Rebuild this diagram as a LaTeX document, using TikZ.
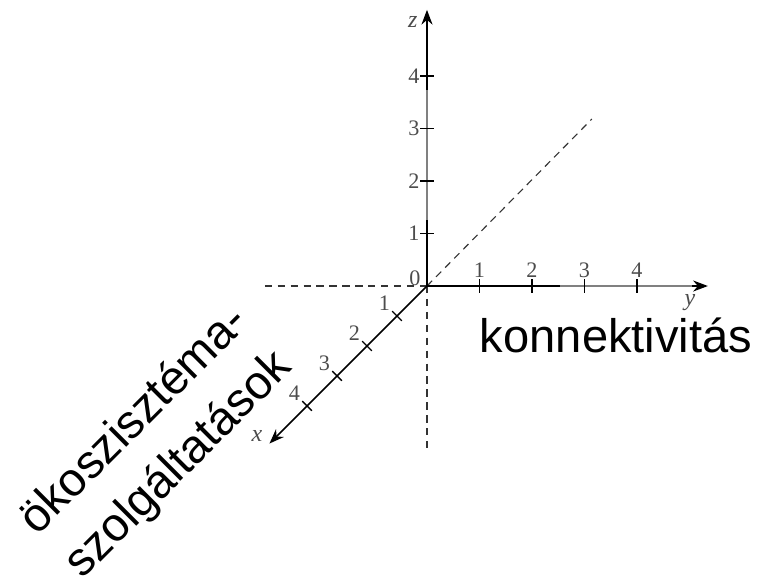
\documentclass[tikz,border=0pt]{standalone}
\usepackage{fontspec}
\setmainfont{Liberation Serif}
\newfontfamily\labelfont{Liberation Sans}
\usetikzlibrary{arrows.meta}

\begin{document}
\begin{tikzpicture}[>={Stealth[length=8pt,width=6pt]}]
  \useasboundingbox (-8.133,-5.695) rectangle (6.362,5.448);
  \tikzset{
    axis/.style={line width=0.8pt, ->},
    guide/.style={line width=0.6pt, dash pattern=on 4pt off 3pt, black!80},
    faded/.style={line width=1.6pt, black!50},
    ticklabel/.style={font=\fontsize{12}{14}\selectfont, text=black!70, inner sep=1pt},
    axislabel/.style={font=\fontsize{13}{15}\selectfont\itshape, text=black!70, inner sep=1pt},
    bigtext/.style={font=\labelfont\fontsize{25.5}{34}\selectfont, align=center, inner sep=0pt},
  }
  \coordinate (O) at (0,0);
  \coordinate (xend) at (-3.0,-3.0);
  \coordinate (yend) at (5.35,0);
  \coordinate (zend) at (0,5.26);
  % dashed guides
  \coordinate (gl) at (-3.09,0);
  \coordinate (gd) at (0,-3.12);
  \coordinate (gr) at (3.14,3.18);
  \draw[guide] (gl) -- (O);
  \draw[guide] (O) -- (gd);
  \draw[guide] (O) -- (gr);
  % axes
  \draw[axis] (O) -- (zend);
  \draw[axis] (O) -- (yend);
  \draw[axis] (O) -- (xend);
  \node[axislabel] (zlab) at (-0.27,5.03) {z};
  \node[axislabel] (ylab) at (5.01,-0.32) {y};
  \node[axislabel] (xlab) at (-3.24,-2.86) {x};
  % faded parts of the scan
  \coordinate (za) at (0,1.26);
  \coordinate (zb) at (0,3.73);
  \coordinate (ya) at (2.53,0);
  \coordinate (yb) at (5.05,0);
  \draw[faded] (za) -- (zb);
  \draw[faded] (ya) -- (yb);
  \node[ticklabel] (zero) at (-0.23,0.15) {0};
  % ticks
  \foreach \k in {1,...,4} {
    \draw[line width=0.7pt] (-0.13,\k) -- (0.13,\k);
    \node[ticklabel, anchor=east] (zt\k) at (-0.1,\k) {\k};
    \draw[line width=0.7pt] (\k,-0.13) -- (\k,0.13);
    \node[ticklabel, anchor=south] (yt\k) at (\k,0.12) {\k};
    \draw[line width=0.7pt] ({-0.571*\k-0.092},{-0.571*\k+0.092}) -- ({-0.571*\k+0.092},{-0.571*\k-0.092});
    \node[ticklabel] (xt\k) at ({-0.571*\k-0.24},{-0.571*\k+0.24}) {\k};
  }
  % axis names
  \node[bigtext, anchor=base] (konn) at (3.6,-1.257) {konnektivitás};
  \node[bigtext, rotate=45] (oko) at (-5.14,-3.0) {ökoszisztéma-\\szolgáltatások};
\end{tikzpicture}
\end{document}
